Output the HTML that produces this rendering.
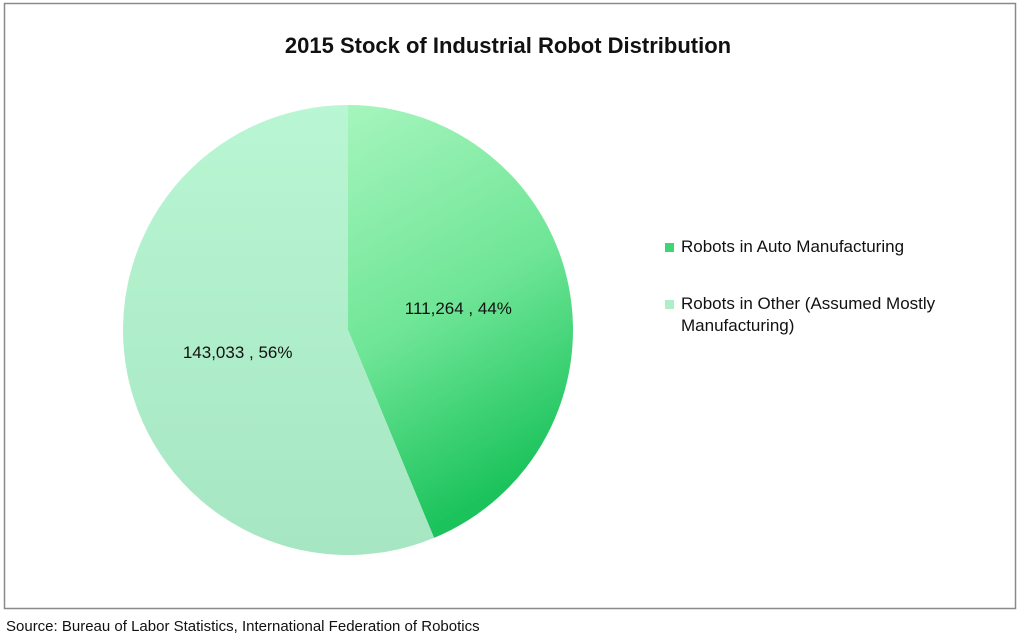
<!DOCTYPE html>
<html><head><meta charset="utf-8"><style>
body{margin:0;width:1024px;height:639px;background:#fff;font-family:"Liberation Sans",sans-serif;overflow:hidden}
</style></head><body>
<svg width="1024" height="639">
<defs>
<linearGradient id="gA" x1="0" y1="0" x2="0.3" y2="1"><stop offset="0" stop-color="#a6f5bd"/><stop offset="0.55" stop-color="#6ee596"/><stop offset="1" stop-color="#1cc35c"/></linearGradient>
<linearGradient id="gB" x1="0" y1="0" x2="0" y2="1"><stop offset="0" stop-color="#b9f6d3"/><stop offset="1" stop-color="#a6e6c2"/></linearGradient>
</defs>
<rect x="4.5" y="3.5" width="1011" height="605" fill="#fff" stroke="#8a8a8a" stroke-width="1.5"/>
<text x="508" y="53" text-anchor="middle" font-size="22" font-weight="bold" fill="#111">2015 Stock of Industrial Robot Distribution</text>
<g id="slices"></g>
<g id="labels"></g>
<rect x="665" y="243" width="9" height="9" fill="#3fd575"/>
<text x="681" y="252" font-size="17" fill="#111">Robots in Auto Manufacturing</text>
<rect x="665" y="300" width="9" height="9" fill="#aeeec8"/>
<text x="681" y="309" font-size="17" fill="#111">Robots in Other (Assumed Mostly</text>
<text x="681" y="331" font-size="17" fill="#111">Manufacturing)</text>
<text x="6" y="631" font-size="15" fill="#111">Source: Bureau of Labor Statistics, International Federation of Robotics</text>
</svg>
<script>
const categories=["Robots in Auto Manufacturing","Robots in Other (Assumed Mostly Manufacturing)"];
const values=[111264,143033];
const labelText=["111,264 , 44%","143,033 , 56%"];
const fills=["url(#gA)","url(#gB)"];
const cx=348,cy=330,r=225;
const ns="http://www.w3.org/2000/svg";
const total=values.reduce((a,b)=>a+b,0);
const g=document.getElementById('slices'),lg=document.getElementById('labels');
let a0=0;
values.forEach((v,i)=>{
 const a1=a0+v/total*2*Math.PI;
 const p=(a)=>[cx+r*Math.sin(a),cy-r*Math.cos(a)];
 const [x0,y0]=p(a0),[x1,y1]=p(a1);
 const large=(a1-a0)>Math.PI?1:0;
 const path=document.createElementNS(ns,'path');
 path.setAttribute('d',`M${cx},${cy}L${x0},${y0}A${r},${r} 0 ${large} 1 ${x1},${y1}Z`);
 path.setAttribute('fill',fills[i]);
 
 
 g.appendChild(path);
 const am=(a0+a1)/2,lr=r*0.5;
 const t=document.createElementNS(ns,'text');
 t.setAttribute('x',cx+lr*Math.sin(am));
 t.setAttribute('y',cy-lr*Math.cos(am)+6);
 t.setAttribute('text-anchor','middle');
 t.setAttribute('font-size','17');
 t.setAttribute('fill','#111');
 t.textContent=labelText[i];
 
 
 lg.appendChild(t);
 a0=a1;
});
</script>
</body></html>
